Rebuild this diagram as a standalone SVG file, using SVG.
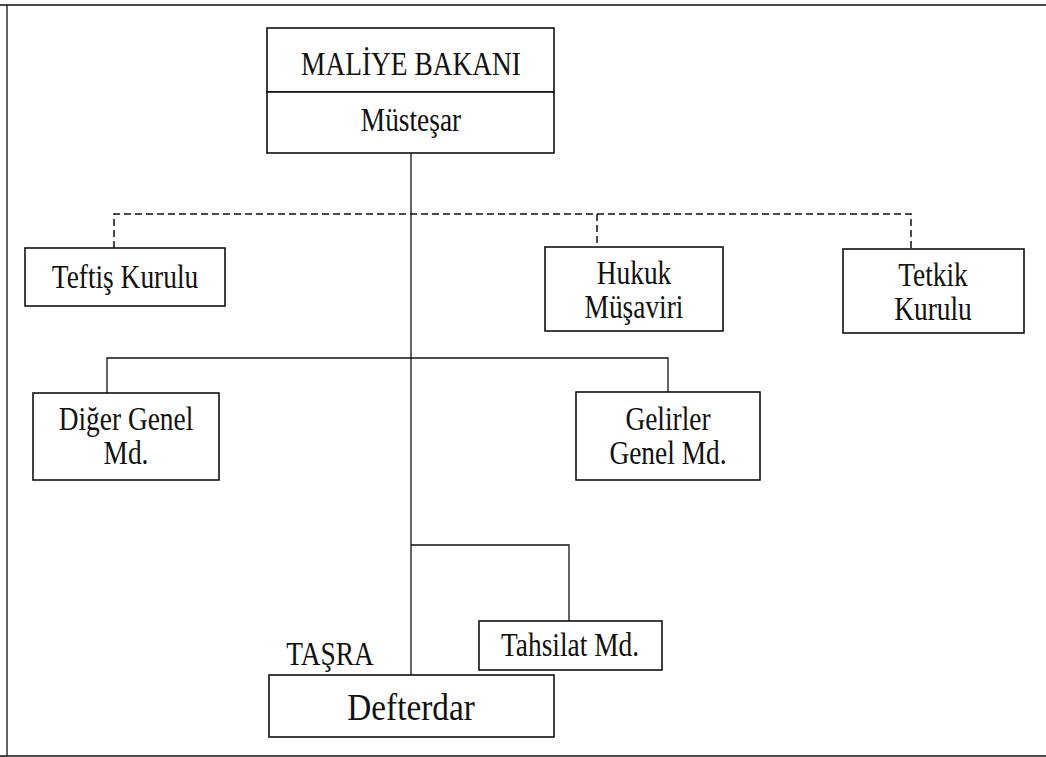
<svg xmlns="http://www.w3.org/2000/svg" width="1046" height="757" viewBox="0 0 1046 757">
<style>
.box{fill:#fff;stroke:#111;stroke-width:1.6}
.ln{fill:none;stroke:#111;stroke-width:1.3}
.dash{fill:none;stroke:#111;stroke-width:1.5;stroke-dasharray:7 4}
text{font-family:'Liberation Serif','DejaVu Serif',serif;font-size:33px;fill:#111;text-anchor:middle}
.big{font-size:37px}
</style>
<rect width="1046" height="757" fill="#fff"/>
<g id="frame" class="ln">
<path d="M0 5 H1046 M7 5 V756 M0 756 H1046"/>
</g>
<g id="connectors">
<path class="ln" d="M411 153 V675"/>
<path class="dash" d="M114 248 V214 H911 V249 M597 214 V247"/>
<path class="ln" d="M107 393 V358 H668 V392"/>
<path class="ln" d="M411 545 H569 V621"/>
</g>
<g id="maliye-bakani">
<rect class="box" x="267" y="28" width="287" height="64"/>
<text transform="translate(411 75) scale(0.83 1)">MALİYE BAKANI</text>
</g>
<g id="mustesar">
<rect class="box" x="267" y="92" width="287" height="61"/>
<text transform="translate(411 131) scale(0.83 1)">Müsteşar</text>
</g>
<g id="teftis-kurulu">
<rect class="box" x="25" y="248" width="200" height="58"/>
<text transform="translate(125 288) scale(0.83 1)">Teftiş Kurulu</text>
</g>
<g id="hukuk-musaviri">
<rect class="box" x="545" y="247" width="178" height="84"/>
<text transform="translate(634 284) scale(0.83 1)">Hukuk</text>
<text transform="translate(634 318) scale(0.83 1)">Müşaviri</text>
</g>
<g id="tetkik-kurulu">
<rect class="box" x="843" y="249" width="181" height="84"/>
<text transform="translate(933 286) scale(0.83 1)">Tetkik</text>
<text transform="translate(933 320) scale(0.83 1)">Kurulu</text>
</g>
<g id="diger-genel-md">
<rect class="box" x="33" y="393" width="186" height="87"/>
<text transform="translate(126 430) scale(0.83 1)">Diğer Genel</text>
<text transform="translate(126 464) scale(0.83 1)">Md.</text>
</g>
<g id="gelirler-genel-md">
<rect class="box" x="576" y="392" width="184" height="88"/>
<text transform="translate(668 430) scale(0.83 1)">Gelirler</text>
<text transform="translate(668 464) scale(0.83 1)">Genel Md.</text>
</g>
<g id="tahsilat-md">
<rect class="box" x="479" y="621" width="183" height="49"/>
<text transform="translate(570 656) scale(0.83 1)">Tahsilat Md.</text>
</g>
<g id="tasra">
<text transform="translate(330 665) scale(0.83 1)">TAŞRA</text>
</g>
<g id="defterdar">
<rect class="box" x="269" y="675" width="285" height="62"/>
<text class="big" transform="translate(411 720) scale(0.9 1)">Defterdar</text>
</g>
</svg>
